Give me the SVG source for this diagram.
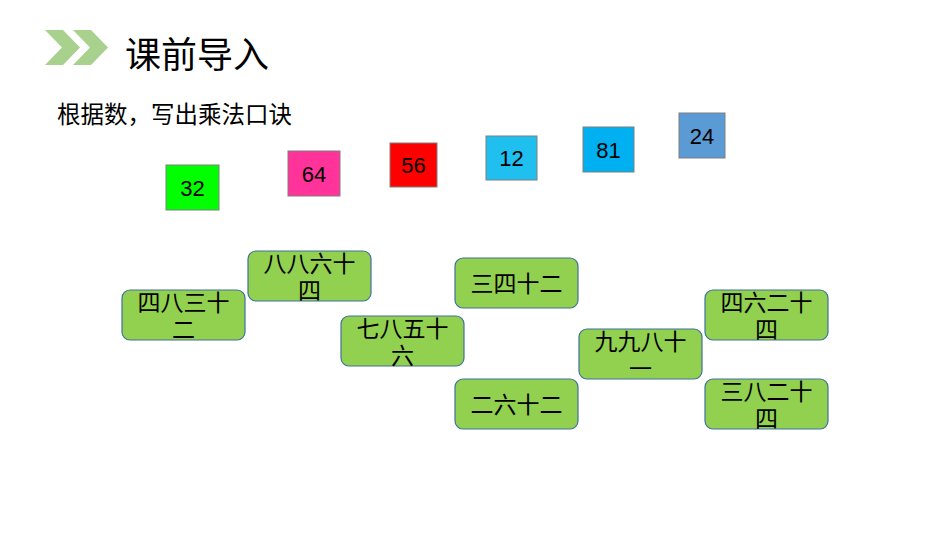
<svg xmlns="http://www.w3.org/2000/svg" width="950" height="535" viewBox="0 0 950 535">
<style>
.n{stroke:#7f7f7f;stroke-width:1}
.nt{font-family:"Liberation Sans",Arial,sans-serif;font-size:22px;fill:#000;text-anchor:middle}
.b{fill:#92D050;stroke:#41719C;stroke-width:1.2}
.bt{font-family:"Noto Sans CJK SC",sans-serif;font-size:23px;fill:#000;text-anchor:middle}
</style>
<rect width="950" height="535" fill="#fff"/>
<g id="header">
<polygon points="45,30 63,30 80,47.5 63,65 45,65 62,47.5" fill="#A9D18E"/>
<polygon points="73,30 91,30 108,47.5 91,65 73,65 90,47.5" fill="#A9D18E"/>
<text x="125" y="68" font-family="Noto Sans CJK SC,sans-serif" font-size="36" fill="#000">课前导入</text>
<text x="57" y="123" font-family="Noto Sans CJK SC,sans-serif" font-size="23.5" fill="#000">根据数，写出乘法口诀</text>
</g>
<g id="num32"><rect class="n" x="166" y="165" width="53" height="45" fill="#00FF00"/><text class="nt" x="192.5" y="196">32</text></g>
<g id="num64"><rect class="n" x="288" y="151" width="52" height="45" fill="#FF3399"/><text class="nt" x="314" y="182">64</text></g>
<g id="num56"><rect class="n" x="390" y="143" width="47" height="44" fill="#FF0000"/><text class="nt" x="413.5" y="173">56</text></g>
<g id="num12"><rect class="n" x="486" y="136" width="51" height="44" fill="#1FBFEF"/><text class="nt" x="511.5" y="166">12</text></g>
<g id="num81"><rect class="n" x="583" y="127" width="51" height="45" fill="#00B0F0"/><text class="nt" x="608.5" y="158">81</text></g>
<g id="num24"><rect class="n" x="679" y="113" width="46" height="45" fill="#5B9BD5"/><text class="nt" x="702" y="144">24</text></g>
<g id="c1"><rect class="b" x="122" y="290" width="123" height="50" rx="8"/><text class="bt" x="183.5" y="311">四八三十</text><text class="bt" x="183.5" y="338">二</text></g>
<g id="c2"><rect class="b" x="248" y="251" width="123" height="50" rx="8"/><text class="bt" x="309.5" y="272">八八六十</text><text class="bt" x="309.5" y="299">四</text></g>
<g id="c3"><rect class="b" x="341" y="316" width="123" height="50" rx="8"/><text class="bt" x="402.5" y="337">七八五十</text><text class="bt" x="402.5" y="364">六</text></g>
<g id="c4"><rect class="b" x="455" y="258" width="123" height="50" rx="8"/><text class="bt" x="516.5" y="292">三四十二</text></g>
<g id="c5"><rect class="b" x="455" y="379" width="123" height="50" rx="8"/><text class="bt" x="516.5" y="413">二六十二</text></g>
<g id="c6"><rect class="b" x="579" y="329" width="123" height="50" rx="8"/><text class="bt" x="640.5" y="350">九九八十</text><text class="bt" x="640.5" y="377">一</text></g>
<g id="c7"><rect class="b" x="705" y="290" width="123" height="50" rx="8"/><text class="bt" x="766.5" y="311">四六二十</text><text class="bt" x="766.5" y="338">四</text></g>
<g id="c8"><rect class="b" x="705" y="379" width="123" height="50" rx="8"/><text class="bt" x="766.5" y="400">三八二十</text><text class="bt" x="766.5" y="427">四</text></g>
<g id="connectors"/>
</svg>
